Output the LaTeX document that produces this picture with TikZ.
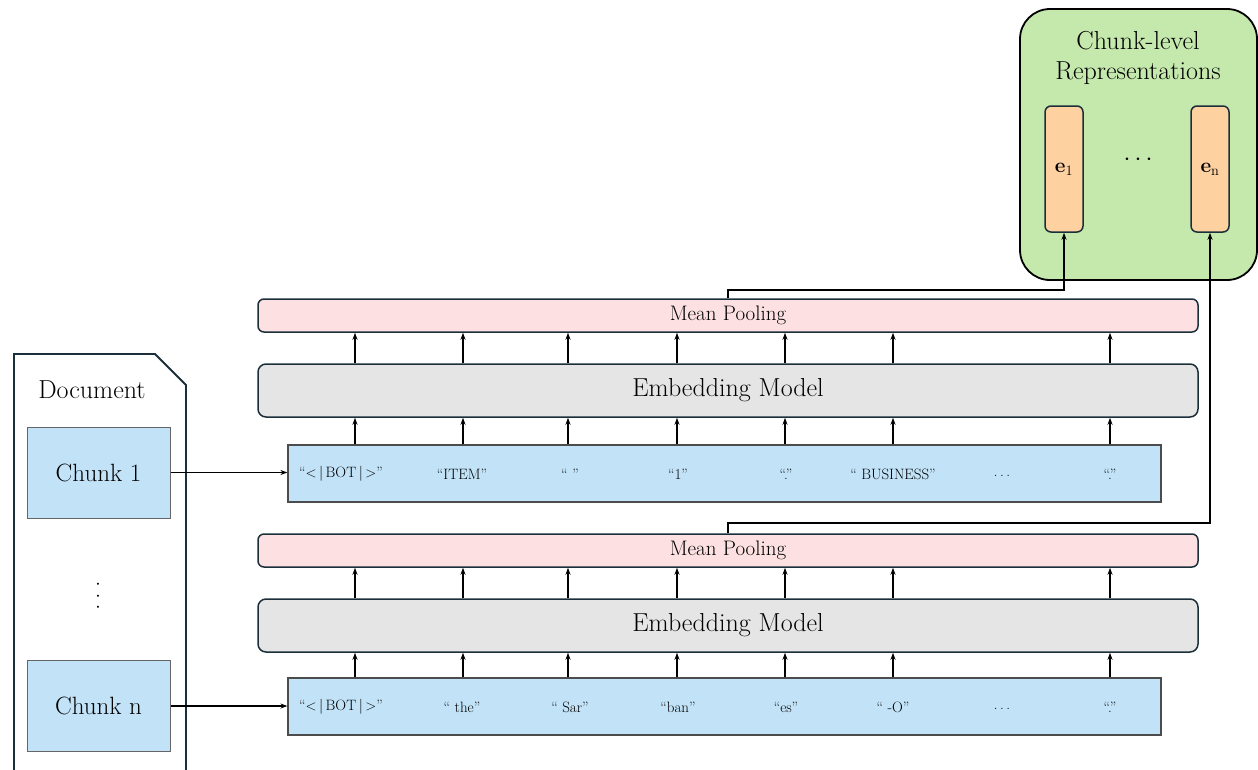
\documentclass[tikz,border=0pt]{standalone}
\usetikzlibrary{arrows.meta}
\definecolor{tokblue}{HTML}{C2E3F7}
\definecolor{pinkbg}{HTML}{FDE1E2}
\definecolor{graybg}{HTML}{E5E5E5}
\definecolor{greenbg}{HTML}{C5E8AD}
\definecolor{orangebg}{HTML}{FDD1A0}
\definecolor{navy}{HTML}{1B2F3A}
\begin{document}
\begin{tikzpicture}[x=1pt,y=-1pt,
  tokbox/.style={draw=black!70, fill=tokblue, line width=1.2pt, minimum width=873pt, minimum height=57pt, inner sep=0pt},
  embbox/.style={draw=navy, fill=graybg, line width=1.5pt, rounded corners=8pt, minimum width=940pt, minimum height=53pt, inner sep=0pt, font=\fontsize{26}{30}\selectfont},
  mpbox/.style={draw=navy, fill=pinkbg, line width=1.5pt, rounded corners=6pt, minimum width=940pt, minimum height=33pt, inner sep=0pt, font=\fontsize{21}{24}\selectfont},
  chunkbox/.style={draw=black!60, fill=tokblue, line width=1pt, minimum width=143pt, minimum height=91pt, inner sep=0pt, font=\fontsize{25}{29}\selectfont},
  toklab/.style={font=\fontsize{15}{17}\selectfont, inner sep=0pt},
  vecbox/.style={draw=navy, fill=orangebg, line width=1.5pt, rounded corners=6pt, minimum width=38pt, minimum height=126pt, inner sep=0pt, font=\fontsize{21}{24}\selectfont},
  arr/.style={line width=1.6pt, -{Stealth[length=7pt,width=5pt]}},
  conn/.style={line width=1.6pt, -{Stealth[length=7pt,width=5pt]}}
]
\useasboundingbox (0,0) rectangle (1258,769);

% Document
\draw[navy, line width=1.8pt, fill=white] (14,771) -- (14,354) -- (155,354) -- (186,385) -- (186,771);
\node[font=\fontsize{26}{30}\selectfont] (doc) at (92,390) {Document};
\node[chunkbox] (c1) at (98.5,472.5) {Chunk 1};
\node[rotate=90, font=\fontsize{26}{30}\selectfont, inner sep=0pt] (vd) at (98,596) {.\hspace{5pt}.\hspace{5pt}.};
\node[chunkbox] (cn) at (98.5,706) {Chunk n};

% Green box
\node[draw=black, fill=greenbg, line width=1.8pt, rounded corners=30pt, minimum width=237pt, minimum height=271pt] (rep) at (1138.5,144.5) {};
\node[font=\fontsize{26}{30}\selectfont, align=center] (replab) at (1138,58) {Chunk-level\\[0pt]Representations};
\node[vecbox] (e1) at (1064,169) {$\mathbf{e}_1$};
\node[vecbox] (en) at (1210,169) {$\mathbf{e}_{\mathrm{n}}$};
\node[font=\fontsize{28}{32}\selectfont] (hd) at (1138,160) {$\cdots$};

% Upper stack
\node[tokbox] (tok1) at (724.5,473.5) {};
\node[embbox] (emb1) at (728,390.5) {Embedding Model};
\node[mpbox] (mp1) at (728,315.5) {Mean Pooling};
\node[toklab] (u1) at (341,474) {``$<$\,|\,BOT\,|\,$>$''};
\node[toklab] (u2) at (462,474) {``ITEM''};
\node[toklab] (u3) at (570,474) {``\ ''};
\node[toklab] (u4) at (678,474) {``1''};
\node[toklab] (u5) at (786,474) {``.''};
\node[toklab] (u6) at (893,474) {`` BUSINESS''};
\node[toklab] (u7) at (1002,476) {.\,.\,.};
\node[toklab] (u8) at (1110,474) {``.''};

% Lower stack
\node[tokbox] (tok2) at (724.5,706.5) {};
\node[embbox] (emb2) at (728,625.5) {Embedding Model};
\node[mpbox] (mp2) at (728,550.5) {Mean Pooling};
\node[toklab] (l1) at (341,707) {``$<$\,|\,BOT\,|\,$>$''};
\node[toklab] (l2) at (462,707) {`` the''};
\node[toklab] (l3) at (570,707) {`` Sar''};
\node[toklab] (l4) at (678,707) {``ban''};
\node[toklab] (l5) at (786,707) {``es''};
\node[toklab] (l6) at (893,707) {`` -O''};
\node[toklab] (l7) at (1002,709) {.\,.\,.};
\node[toklab] (l8) at (1110,707) {``.''};

% column coordinates
\foreach \i/\xx in {1/355,2/463,3/568,4/677,5/785,6/893,8/1110}{
  \coordinate (ca\i) at (\xx,0);
  \draw[arr] (ca\i |- tok1.north) -- (ca\i |- emb1.south);
  \draw[arr] (ca\i |- emb1.north) -- (ca\i |- mp1.south);
  \draw[arr] (ca\i |- tok2.north) -- (ca\i |- emb2.south);
  \draw[arr] (ca\i |- emb2.north) -- (ca\i |- mp2.south);
}

% chunk to tokens
\draw[arr] (c1.east) -- (c1.east -| tok1.west);
\draw[arr] (cn.east) -- (cn.east -| tok2.west);

% pooling to representations
\draw[conn] (mp1.north) -- ++(0,-8) -| (e1.south);
\draw[conn] (mp2.north) -- ++(0,-10) -| (en.south);
\end{tikzpicture}
\end{document}
